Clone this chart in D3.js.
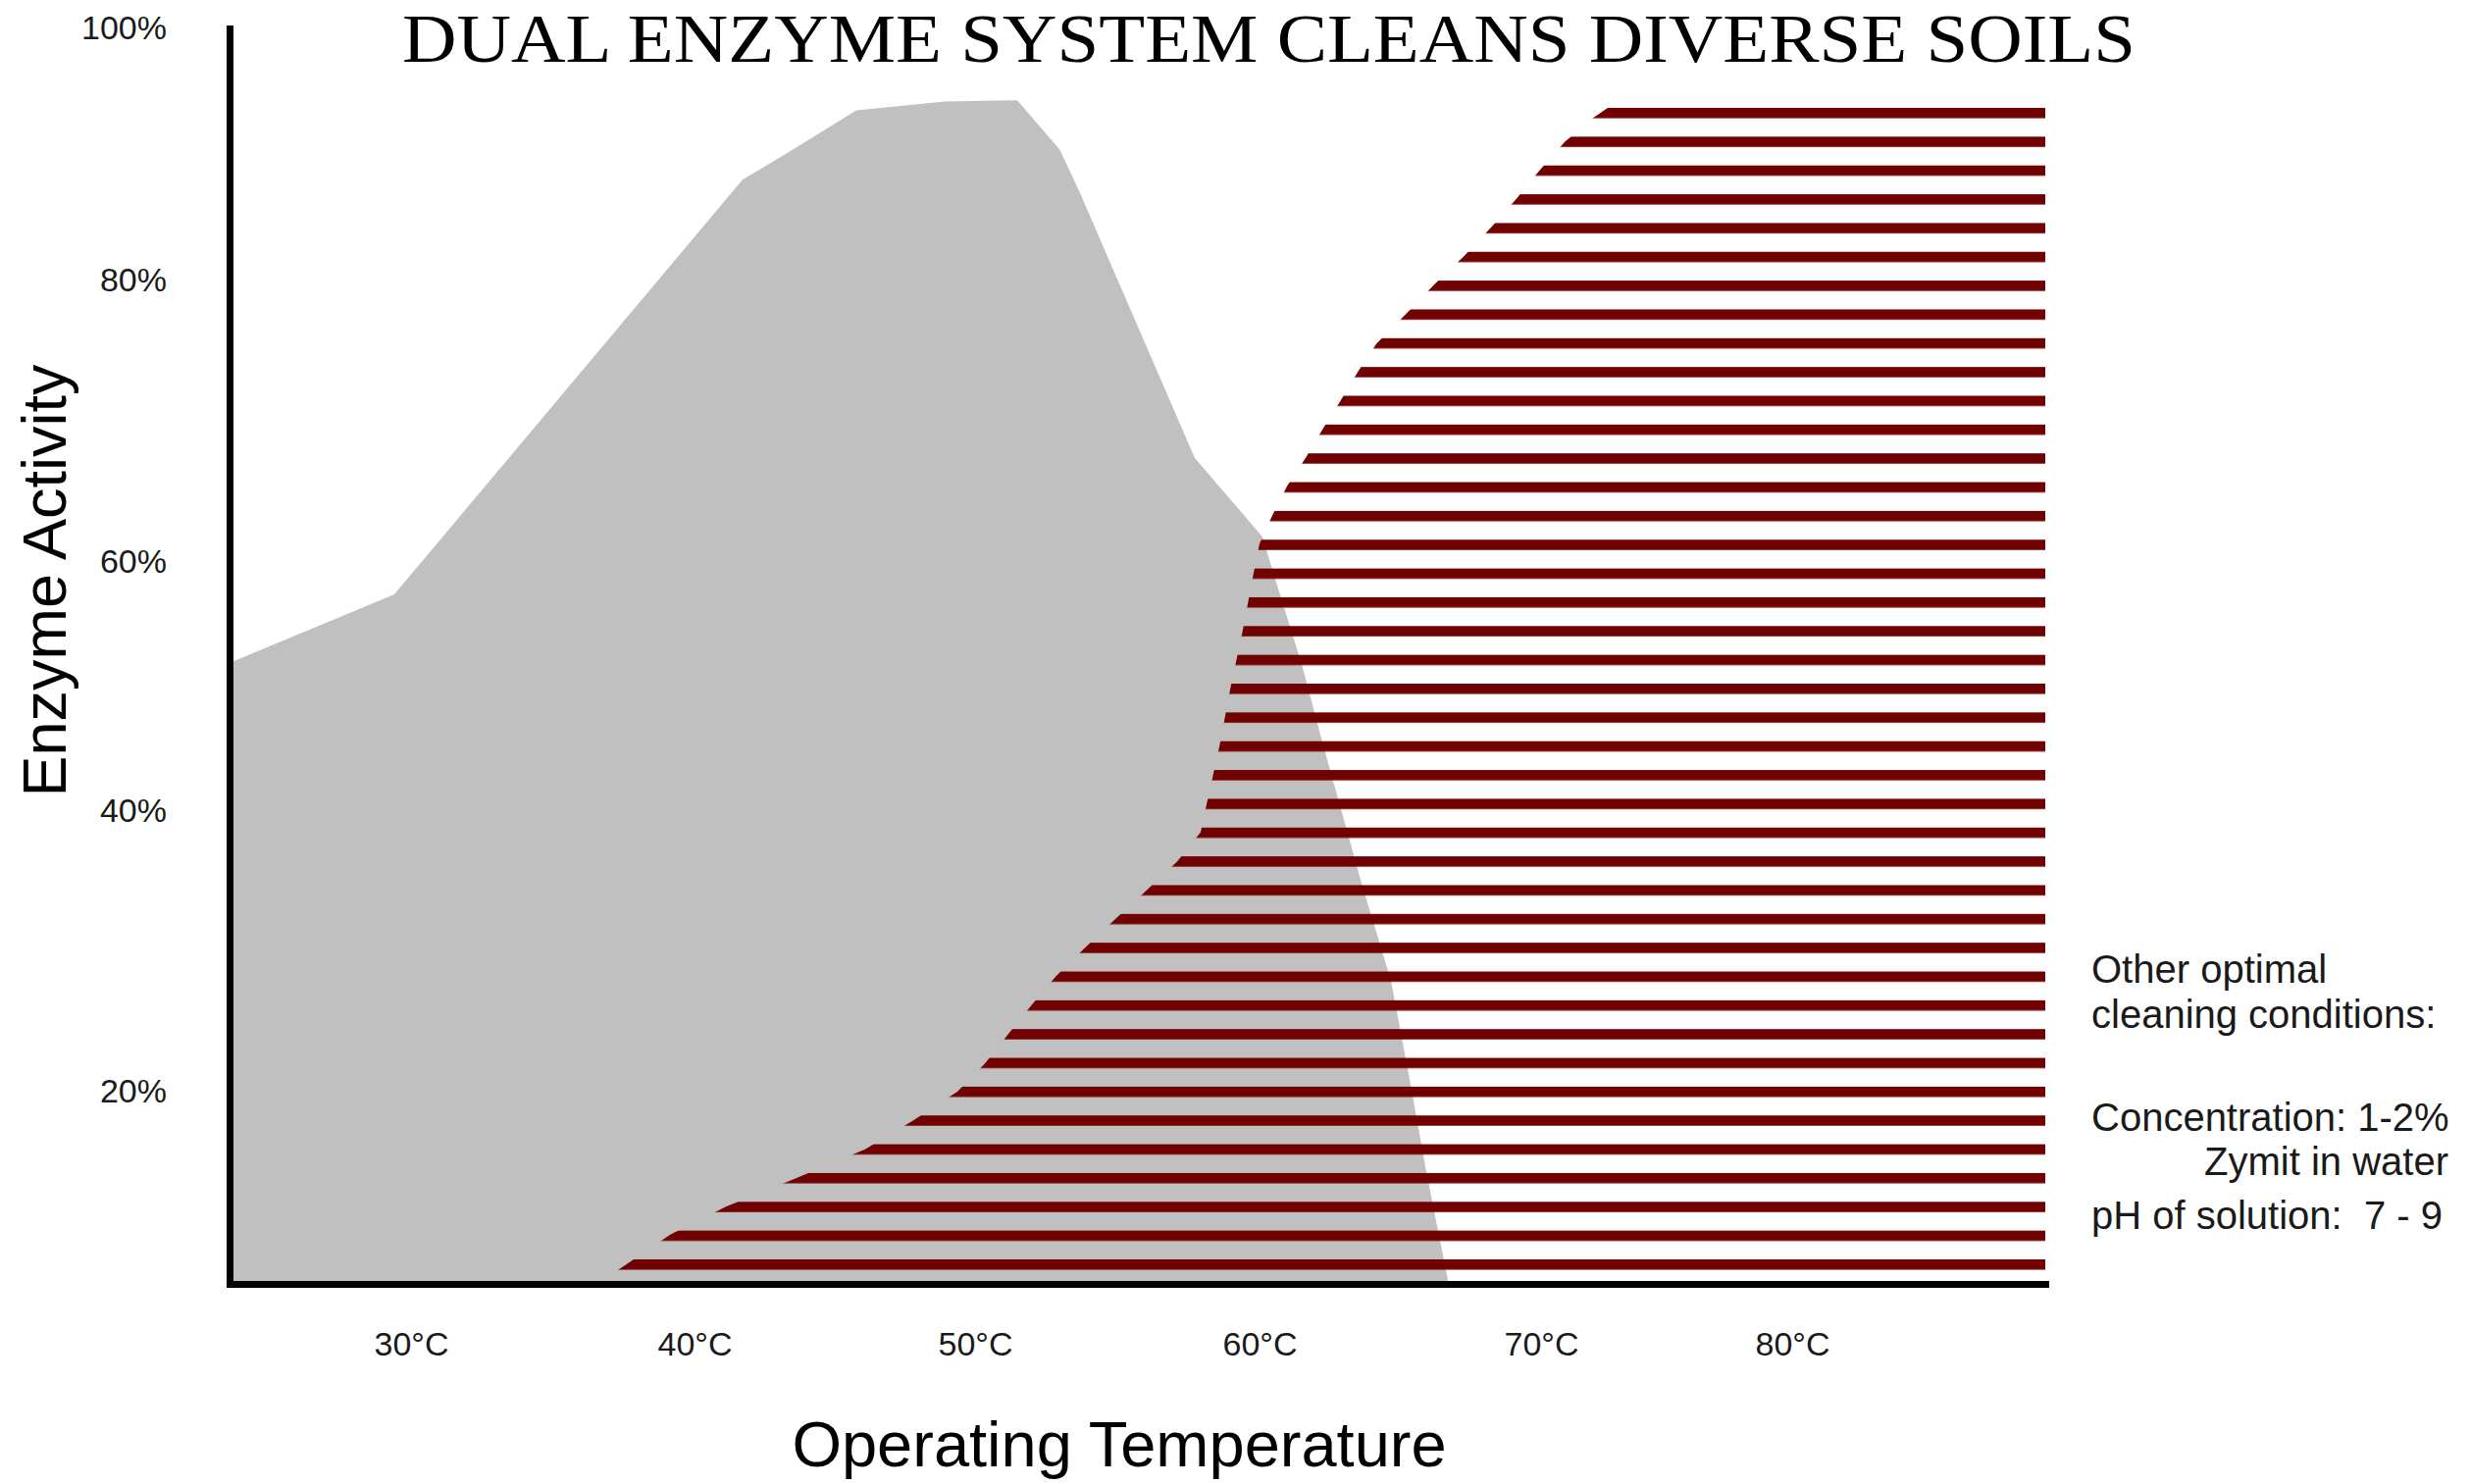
<!DOCTYPE html>
<html lang="en">
<head>
<meta charset="UTF-8">
<title>Dual Enzyme System Cleans Diverse Soils</title>
<script src="https://d3js.org/d3.v7.min.js"></script>
<style>
  body { margin: 0; background: #fff; }
  svg { display: block; font-family: "Liberation Sans", Arial, sans-serif; }
  .title { font-family: "Liberation Serif", "Times New Roman", serif; font-size: 70px; fill: #000; }
  .axis path { stroke: #000; stroke-width: 7; stroke-linecap: square; }
  .axis text { font-family: "Liberation Sans", Arial, sans-serif; font-size: 34px; fill: #1a1a1a; }
  .axis-label { font-size: 63px; fill: #000; }
  .note { font-size: 40px; fill: #1a1a1a; white-space: pre; }
</style>
</head>
<body>
<div id="chart"></div>
<script>
// tick values
const xTicks = [30, 40, 50, 60, 70, 80];
const yTicks = [20, 40, 60, 80, 100];

// grey enzyme (peaks around 50 °C)
const greyTemp = [23.6, 29.41, 41.71, 43.22, 45.77, 48.92, 51.48, 52.97, 53.66, 57.72,
                  60.10, 60.66, 61.50, 62.20, 63.62, 64.67, 65.33, 65.96, 66.72];
const greyActivity = [51.9, 57.4, 88.0, 90.0, 93.5, 94.2, 94.3, 90.4, 87.1, 67.4,
                      61.8, 57.9, 51.8, 45.8, 34.9, 27.9, 20.9, 13.9, 6.3];

// striped enzyme (rises from ~37 °C, stays high to 90 °C)
const stripeTemp = [36.57, 37.65, 39.13, 41.12, 43.64, 46.08, 47.76, 49.37, 50.34, 51.17,
                    52.0, 52.83, 53.83, 54.93, 56.0, 57.10, 57.93, 58.14, 58.59, 58.97,
                    59.41, 59.79, 60.0, 60.45, 60.98, 61.64, 62.26, 62.89, 63.52, 64.15,
                    65.19, 66.20, 67.25, 68.22, 69.13, 69.93, 70.94, 72.07, 72.77, 90.1];
const stripeActivity = [6.3, 7.76, 9.79, 11.8, 13.85, 15.9, 17.9, 20.0, 22.0, 24.1,
                        26.2, 28.2, 30.2, 32.3, 34.3, 36.4, 38.5, 40.55, 45.2, 49.8,
                        54.5, 59.1, 61.3, 63.3, 65.4, 67.4, 69.5, 71.5, 73.6, 75.5,
                        77.6, 79.7, 81.9, 84.2, 86.5, 88.7, 91.0, 92.9, 93.85, 93.85];

const noteLines = ["Other optimal", "cleaning conditions:", "Concentration: 1-2%",
                   "Zymit in water", "pH of solution:  7 - 9"];

const W = 2519, H = 1513;

const svg = d3.select("#chart").append("svg")
    .attr("width", W)
    .attr("height", H);

// the original axis spacing is uneven, so use piecewise linear scales
const x = d3.scaleLinear()
    .domain([23.6, ...xTicks, 90.1])
    .range([234, 419, 708, 994, 1284, 1571, 1827, 2085]);

const y = d3.scaleLinear()
    .domain([6.3, ...yTicks])
    .range([1309, 1113, 827, 573, 286, 29]);

const base = y.domain()[0];

// stripe pattern
const defs = svg.append("defs");
const pat = defs.append("pattern")
    .attr("id", "stripes")
    .attr("patternUnits", "userSpaceOnUse")
    .attr("x", 0)
    .attr("y", 110)
    .attr("width", 20)
    .attr("height", 29.35);
pat.append("rect")
    .attr("width", 20)
    .attr("height", 10.5)
    .attr("fill", "#710000");

const area = d3.area()
    .x(d => x(d[0]))
    .y0(y(base))
    .y1(d => y(d[1]));

svg.append("path")
    .datum(d3.zip(greyTemp, greyActivity))
    .attr("fill", "#c0c0c0")
    .attr("d", area);

svg.append("path")
    .datum(d3.zip(stripeTemp, stripeActivity))
    .attr("fill", "url(#stripes)")
    .attr("d", area);

// axes
svg.append("g")
    .attr("class", "axis")
    .attr("transform", `translate(0,${y(base)})`)
    .call(d3.axisBottom(x)
        .tickValues(xTicks)
        .tickSize(0)
        .tickPadding(49)
        .tickFormat(d => d + "°C"));

svg.append("g")
    .attr("class", "axis")
    .attr("transform", `translate(${x(x.domain()[0])},0)`)
    .call(d3.axisLeft(y)
        .tickValues(yTicks)
        .tickSize(0)
        .tickPadding(64)
        .tickFormat(d => d + "%"));

// title
svg.append("text")
    .attr("class", "title")
    .attr("x", 410)
    .attr("y", 63)
    .attr("textLength", 1767)
    .attr("lengthAdjust", "spacingAndGlyphs")
    .text("DUAL ENZYME SYSTEM CLEANS DIVERSE SOILS");

// axis titles
svg.append("text")
    .attr("class", "axis-label")
    .attr("text-anchor", "middle")
    .attr("transform", "translate(67,592) rotate(-90)")
    .text("Enzyme Activity");

svg.append("text")
    .attr("class", "axis-label")
    .attr("text-anchor", "middle")
    .attr("x", 1141)
    .attr("y", 1495)
    .style("font-size", "65px")
    .text("Operating Temperature");

// side notes
const notePos = [
    { x: 2132, y: 1002, anchor: "start" },
    { x: 2132, y: 1048, anchor: "start" },
    { x: 2132, y: 1153, anchor: "start" },
    { x: 2496, y: 1198, anchor: "end" },
    { x: 2132, y: 1253, anchor: "start" }
];

svg.selectAll(".note")
    .data(noteLines)
    .enter()
    .append("text")
    .attr("class", "note")
    .attr("x", (d, i) => notePos[i].x)
    .attr("y", (d, i) => notePos[i].y)
    .attr("text-anchor", (d, i) => notePos[i].anchor)
    .text(d => d);
</script>
</body>
</html>
